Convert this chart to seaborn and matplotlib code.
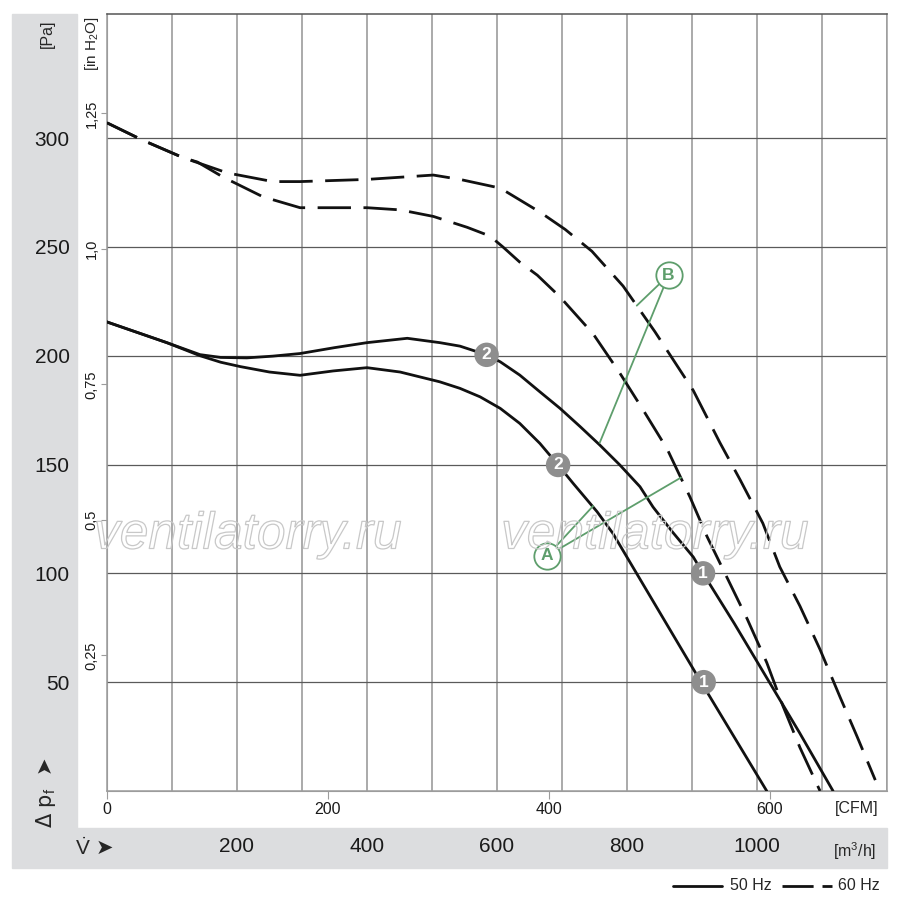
import matplotlib
matplotlib.use("Agg")
import matplotlib.pyplot as plt
import matplotlib.patheffects as pe
from matplotlib.lines import Line2D
from matplotlib.patches import Rectangle
import seaborn as sns

# 60 Hz, upper dashed curve (m3/h, Pa)
ud_x = [0, 55, 117, 185, 255, 297, 400, 502, 543, 605, 666, 705, 746, 794, 843, 902, 943,
        974, 1009, 1035, 1066, 1097, 1128, 1154, 1182]
ud_y = [307, 299, 291, 284, 280, 280, 281, 283, 281, 277, 266, 258, 248, 232, 211, 184, 160,
        143, 123, 103, 85, 65, 43, 25, 5]

# 60 Hz, lower dashed curve
ld_x = [0, 55, 117, 139, 179, 240, 297, 348, 400, 451, 502, 554, 589, 609, 635, 662, 697,
        748, 789, 825, 862, 897, 923, 954, 985, 1015, 1040, 1066, 1097]
ld_y = [307, 299, 291, 289, 282, 273, 268, 268, 268, 267, 264, 259, 255, 250, 243, 237, 227,
        210, 192, 175, 157, 135, 117, 98, 79, 59, 39, 20, 0]

# 50 Hz, upper solid curve
us_x = [0, 92, 143, 175, 215, 255, 297, 350, 400, 462, 512, 543, 584, 605, 635, 666, 697,
        728, 758, 789, 820, 840, 870, 902, 917, 965, 1015, 1065, 1117]
us_y = [215.5, 206, 200.5, 199.2, 199, 199.8, 201, 203.7, 206, 208, 206, 204.4, 200.4, 197.2,
        191.1, 183.4, 175.8, 167.4, 159, 149.8, 139.8, 130.5, 119, 107.5, 100, 77, 52, 27, 0]

# 50 Hz, lower solid curve
ls_x = [0, 92, 143, 175, 205, 250, 297, 348, 400, 451, 512, 543, 574, 605, 635, 666, 694,
        717, 754, 778, 912, 1015]
ls_y = [215.5, 206, 200, 197, 195, 192.5, 191, 193, 194.5, 192.5, 188, 185, 181.1, 175.8,
        168.9, 159.7, 149.8, 141.4, 128.3, 118.5, 51, 0]

# operating points
op_x = [584, 917, 694, 918]
op_y = [200.4, 100, 149.8, 50]
op_lbl = ["2", "1", "2", "1"]

# A / B callouts: label point and the curve points they point to
call_lbl = ["A", "B"]
call_x = [677, 864]
call_y = [108, 237]
call_to_x = [[748, 883], [815, 758]]
call_to_y = [[131, 144], [223, 160]]

m3h_ticks = list(range(0, 1300, 100))
m3h_labels = [200, 400, 600, 800, 1000]
pa_ticks = [50, 100, 150, 200, 250, 300]
cfm_ticks = [0, 200, 400, 600]
inh2o_ticks = [0.25, 0.5, 0.75, 1.0, 1.25]
inh2o_labels = ["0,25", "0,5", "0,75", "1,0", "1,25"]

sns.set_style("white")
plt.rcParams["font.family"] = ["Liberation Sans", "DejaVu Sans"]
plt.rcParams["mathtext.fontset"] = "custom"
plt.rcParams["mathtext.rm"] = "Liberation Sans"
plt.rcParams["mathtext.it"] = "Liberation Sans"

W, H = 900, 910
fig = plt.figure(figsize=(9, 9.1), dpi=100)

def fx(px):
    return px / W

def fy(py):
    return 1 - py / H

# grey bands
grey = "#dcdddf"
fig.add_artist(Rectangle((fx(12), fy(828)), fx(77) - fx(12), fy(14) - fy(828),
                         transform=fig.transFigure, color=grey, zorder=0))
fig.add_artist(Rectangle((fx(12), fy(868)), fx(887) - fx(12), fy(828) - fy(868),
                         transform=fig.transFigure, color=grey, zorder=0))

ax = fig.add_axes([fx(107), fy(791), fx(887) - fx(107), fy(14) - fy(791)])
ax.set_facecolor("none")
ax.set_xlim(0, 1200)
ax.set_ylim(0, 357)

ax.set_xticks(m3h_ticks)
ax.set_xticklabels([str(v) if v in m3h_labels else "" for v in m3h_ticks])
ax.set_yticks(pa_ticks)
ax.set_yticklabels([str(v) for v in pa_ticks])
ax.tick_params(axis="x", length=0, pad=33, labelsize=15, colors="#1a1a1a")
ax.tick_params(axis="y", length=0, pad=27, labelsize=15, colors="#1a1a1a")
ax.xaxis.grid(True, color="#9c9c9c", lw=1.2)
ax.yaxis.grid(True, color="#5a5a5a", lw=0.9)
ax.set_axisbelow(True)
ax.spines["top"].set_color("#555555")
for s in ["left", "bottom", "right"]:
    ax.spines[s].set_color("#9c9c9c")
for s in ax.spines.values():
    s.set_linewidth(1.1)

secx = ax.secondary_xaxis("bottom", functions=(lambda v: v / 1.699, lambda v: v * 1.699))
secx.set_xticks(cfm_ticks)
secx.set_xticklabels([str(v) for v in cfm_ticks])
secx.tick_params(length=6, color="#9c9c9c", labelsize=11.5, pad=2, labelcolor="#1a1a1a")
secx.spines["bottom"].set_color("#9c9c9c")

secy = ax.secondary_yaxis("left", functions=(lambda v: v / 249.089, lambda v: v * 249.089))
secy.set_yticks(inh2o_ticks)
secy.set_yticklabels(inh2o_labels, rotation=90, va="center")
secy.tick_params(length=4, color="#9c9c9c", labelsize=10.5, pad=2, labelcolor="#1a1a1a")
secy.spines["left"].set_color("#9c9c9c")

# watermark
for wx in [248, 655]:
    fig.text(fx(wx), fy(535), "ventilatorry.ru", ha="center", va="center", size=37,
             style="italic", color=(1, 1, 1, 0),
             path_effects=[pe.withStroke(linewidth=0.9, foreground="#c8c8c8")], zorder=1)

dash = (0, (12, 4.5))
sns.lineplot(x=ud_x, y=ud_y, ax=ax, color="#111111", lw=2.0, sort=False, estimator=None,
             linestyle=dash, zorder=3)
sns.lineplot(x=ld_x, y=ld_y, ax=ax, color="#111111", lw=2.0, sort=False, estimator=None,
             linestyle=dash, zorder=3)
sns.lineplot(x=us_x, y=us_y, ax=ax, color="#111111", lw=2.0, sort=False, estimator=None,
             zorder=3)
sns.lineplot(x=ls_x, y=ls_y, ax=ax, color="#111111", lw=2.0, sort=False, estimator=None,
             zorder=3)

# grey operating point markers
ax.scatter(op_x, op_y, s=310, color="#8e8e8e", edgecolor="none", zorder=5)
for x, y, t in zip(op_x, op_y, op_lbl):
    ax.text(x, y, t, ha="center", va="center", color="white", size=12.5, weight="bold", zorder=6)

# green callouts
green = "#5e9e6c"
for lbl, x, y, tx, ty in zip(call_lbl, call_x, call_y, call_to_x, call_to_y):
    for ex, ey in zip(tx, ty):
        ax.plot([x, ex], [y, ey], color=green, lw=1.3, zorder=4)
    ax.scatter([x], [y], s=360, facecolor="white", edgecolor=green, linewidth=1.3, zorder=5)
    ax.text(x, y, lbl, ha="center", va="center", color=green, size=12.5, weight="bold",
            zorder=6)

# axis captions
fig.text(fx(47), fy(34), "[Pa]", rotation=90, ha="center", va="center", size=11.5)
fig.text(fx(92), fy(44), "[in H$_2$O]", rotation=90, ha="center", va="center", size=11)
fig.text(fx(46), fy(793), "Δ p$_f$  ➤", rotation=90, ha="center", va="center", size=15,
         family=["DejaVu Sans"])
fig.text(fx(95), fy(848), r"$\mathrm{\dot{V}}$ ➤", ha="center", va="center", size=15,
         family=["DejaVu Sans"])
fig.text(fx(857), fy(808), "[CFM]", ha="center", va="center", size=11.5)
fig.text(fx(855), fy(851), "[m$^3$/h]", ha="center", va="center", size=11.5)

# legend
fig.add_artist(Line2D([fx(673), fx(722)], [fy(886), fy(886)], transform=fig.transFigure,
                      color="#111111", lw=2.0))
fig.text(fx(730), fy(886), "50 Hz", ha="left", va="center", size=11.5)
fig.add_artist(Line2D([fx(782), fx(832)], [fy(886), fy(886)], transform=fig.transFigure,
                      color="#111111", lw=2.0, linestyle=(0, (11.2, 3.2))))
fig.text(fx(838), fy(886), "60 Hz", ha="left", va="center", size=11.5)

fig.savefig("out.png", dpi=100, facecolor="white")
